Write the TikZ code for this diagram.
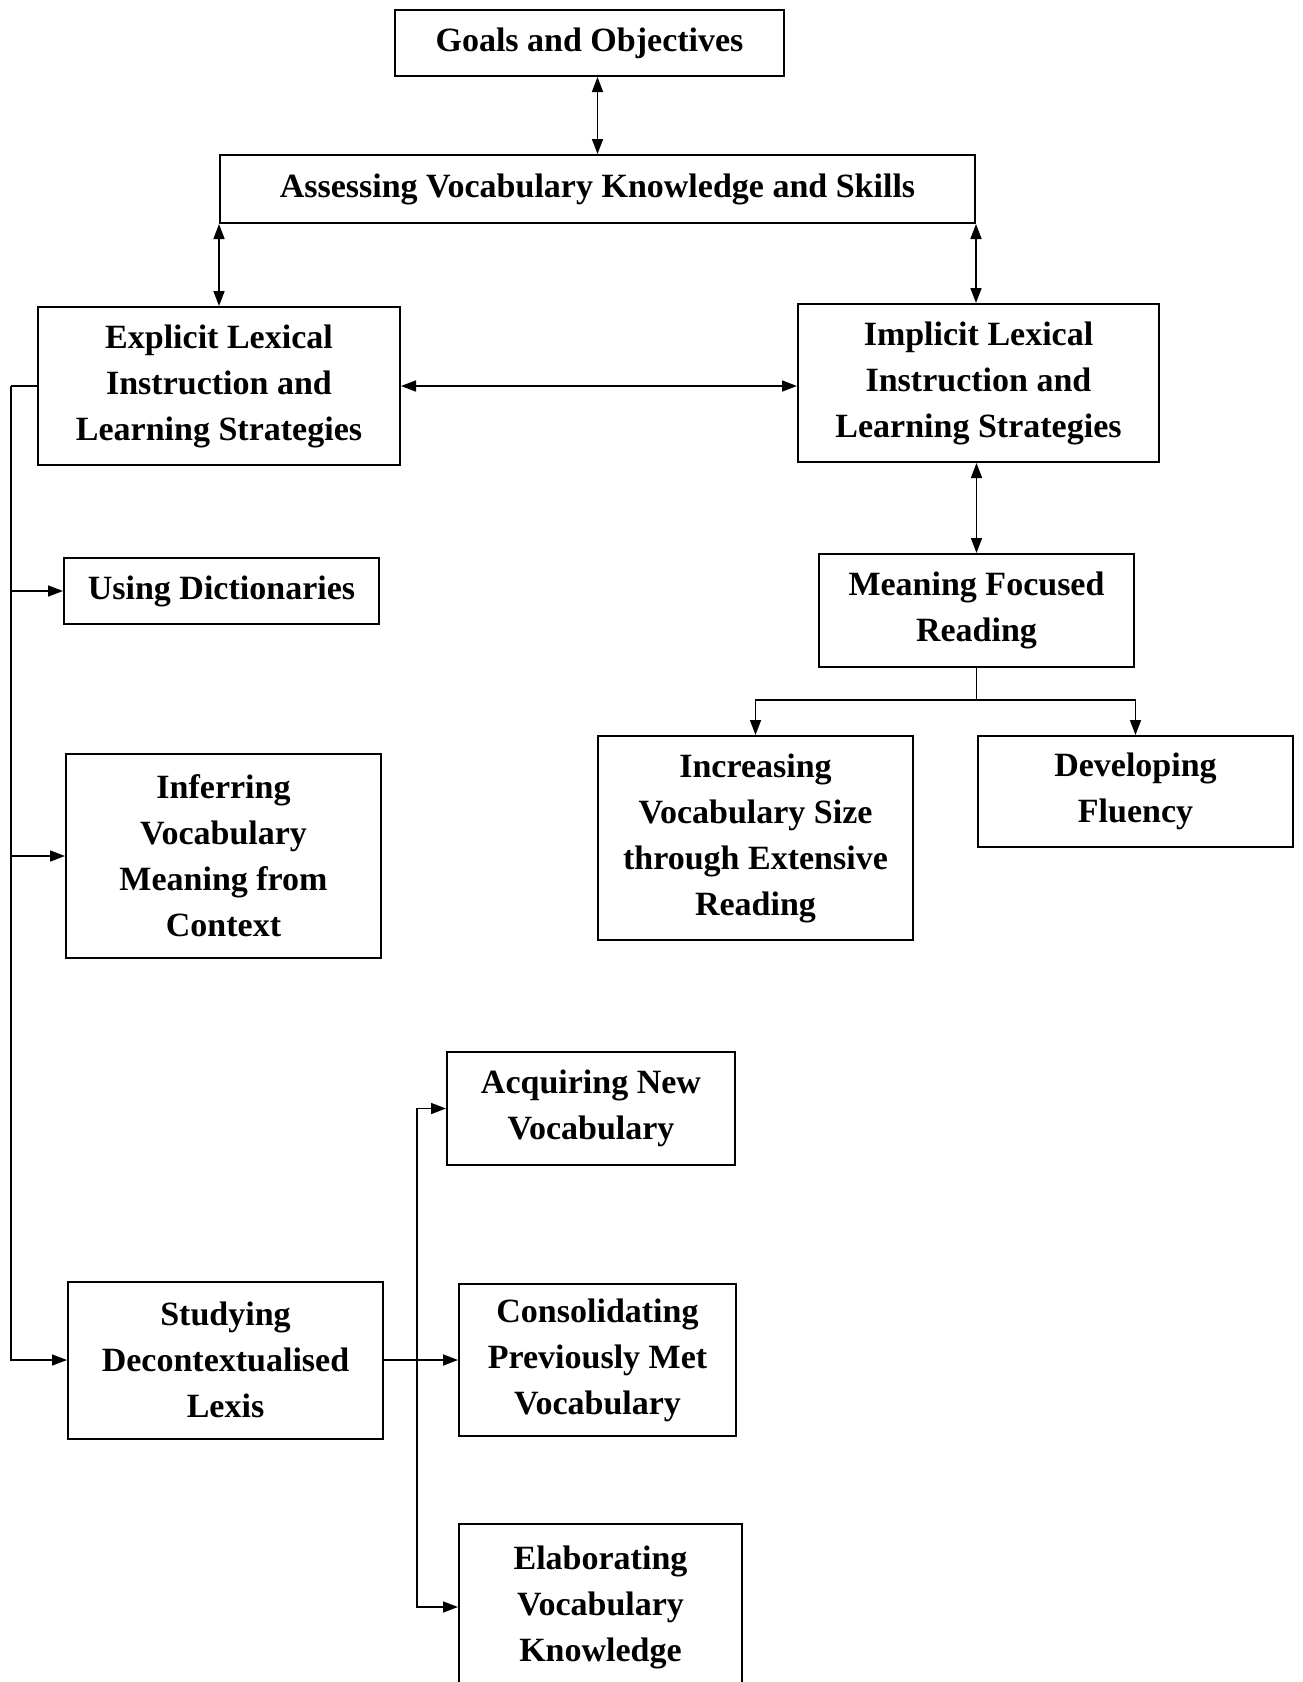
\documentclass[tikz,border=0pt]{standalone}
\usepackage{fontspec}
\setmainfont{Liberation Serif}
\usetikzlibrary{arrows.meta, positioning, calc}

\begin{document}
\begin{tikzpicture}[x=1pt, y=1pt,
  every node/.style={font=\fontsize{17}{23}\selectfont\bfseries},
  box/.style={rectangle, draw=black, line width=1pt, align=center,
              minimum width=157.5pt},
  arr/.style={-{Triangle[length=7.5pt,width=5.5pt]}, line width=0.8pt},
  biarr/.style={{Triangle[length=7.5pt,width=5.5pt]}-{Triangle[length=7.5pt,width=5.5pt]},
                line width=0.8pt},
  conn/.style={line width=0.8pt},
]
  \useasboundingbox (0,0) rectangle (651,-841);

  \node[box, minimum width=194.5pt, minimum height=33pt] (goals) at (294.75,-21.5)
        {Goals and Objectives};
  \node[box, minimum width=377.5pt, minimum height=34pt, below=38.5pt of goals,
        xshift=4pt] (assess) {Assessing Vocabulary Knowledge and Skills};
  \node[box, minimum width=181pt, minimum height=79pt] (explicit) at (109.5,-193)
        {Explicit Lexical\\Instruction and\\Learning Strategies};
  \node[box, minimum width=180.5pt, minimum height=79pt] (implicit) at (489.25,-191.5)
        {Implicit Lexical\\Instruction and\\Learning Strategies};

  % explicit side
  \node[box, minimum height=33pt] (dict) at (110.75,-295.5) {Using Dictionaries};
  \node[box, minimum height=102pt] (infer) at (111.75,-428)
        {Inferring\\Vocabulary\\Meaning from\\Context};
  \node[box, minimum height=78.5pt] (study) at (112.75,-680)
        {Studying\\Decontextualised\\Lexis};
  \node[box, minimum width=144pt, minimum height=56.5pt] (acquire) at (295.5,-554.25)
        {Acquiring New\\Vocabulary};
  \node[box, minimum width=138.5pt, minimum height=76pt] (consol) at (298.75,-680)
        {Consolidating\\Previously Met\\Vocabulary};
  \node[box, minimum width=141.5pt, minimum height=83pt] (elab) at (300.25,-803.5)
        {Elaborating\\Vocabulary\\Knowledge};

  % implicit side
  \node[box, minimum height=56.5pt, below=45pt of implicit, xshift=-1pt] (meaning)
        {Meaning Focused\\Reading};
  \node[box, minimum height=102pt] (increase) at (377.75,-419)
        {Increasing\\Vocabulary Size\\through Extensive\\Reading};
  \node[box, minimum height=55.5pt, right=31.5pt of increase.north east,
        anchor=north west] (develop) {Developing\\Fluency};

  % two-way arrows
  \draw[biarr] (goals.south -| assess.north) -- (assess.north);
  \draw[biarr] (assess.south west) -- (assess.south west |- explicit.north);
  \draw[biarr] (assess.south east) -- (assess.south east |- implicit.north);
  \draw[biarr] (explicit.east) -- (explicit.east -| implicit.west);
  \draw[biarr] (implicit.south -| meaning.north) -- (meaning.north);

  % meaning focused reading branch
  \coordinate (mfork) at ($(meaning.south)+(0,-16)$);
  \draw[conn] (meaning.south) -- (mfork);
  \draw[arr] (mfork) -| (increase.north);
  \draw[arr] (mfork) -| (develop.north);

  % left trunk
  \coordinate (ltrunk) at ($(explicit.west)+(-13,0)$);
  \draw[conn] (explicit.west) -- (ltrunk);
  \foreach \n in {dict, infer, study}
    \draw[arr] (ltrunk) |- (\n.west);

  % decontextualised lexis branch
  \coordinate (sfork) at ($(study.east)+(16.5,0)$);
  \draw[conn] (study.east) -- (sfork);
  \foreach \n in {acquire, consol, elab}
    \draw[arr] (sfork) |- (\n.west);

\end{tikzpicture}
\end{document}
